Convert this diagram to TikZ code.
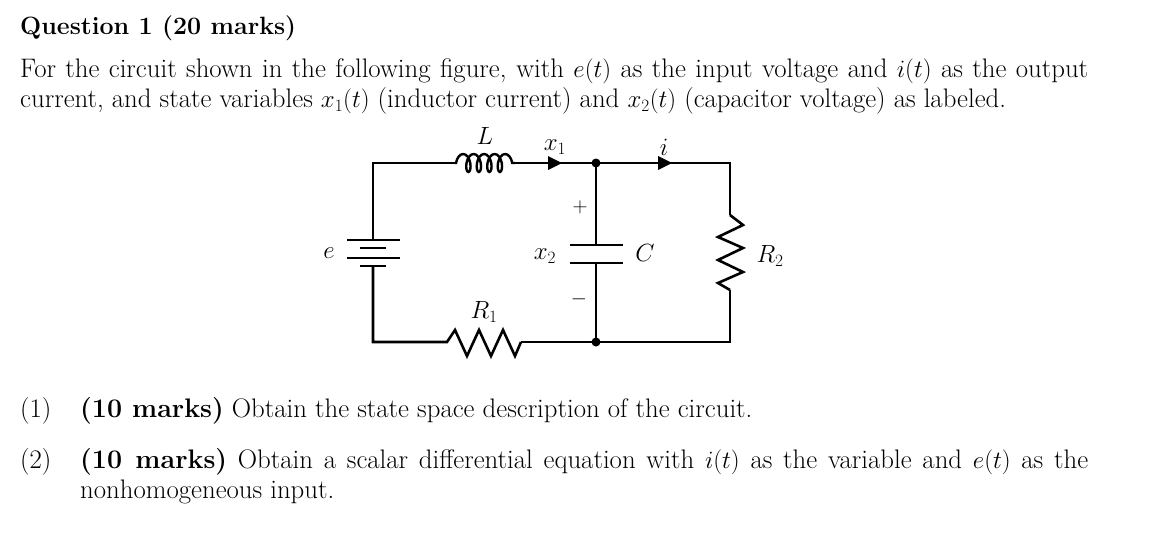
\documentclass[tikz,border=0pt]{standalone}
\usetikzlibrary{decorations.pathmorphing,arrows.meta}
\begin{document}
\begin{tikzpicture}[x=1pt,y=-1pt,
  wire/.style={line width=2.6pt,line join=miter},
  txt/.style={inner sep=0,font=\fontsize{26.8}{30.5}\selectfont},
  dot/.style={circle,fill,inner sep=0,minimum size=9pt}]
\useasboundingbox (0,0) rectangle (1154,544);
\node[txt,anchor=west,font=\fontsize{25}{30}\selectfont\bfseries] (title) at (20,28) {Question 1 (20 marks)};
\node[txt,anchor=north west,text width=1068pt,align=justify] (para) at (20,58) {For the circuit shown in the following figure, with $e(t)$ as the input voltage and $i(t)$ as the output current, and state variables $x_1(t)$ (inductor current) and $x_2(t)$ (capacitor voltage) as labeled.};
\node[txt,anchor=west] (q1n) at (20,411) {(1)};
\node[txt,anchor=west] (q1) at (80,411) {\textbf{(10 marks)} Obtain the state space description of the circuit.};
\node[txt,anchor=north west] (q2n) at (20,448) {(2)};
\node[txt,anchor=north west,text width=1008pt,align=justify] (q2) at (80,448) {\textbf{(10 marks)} Obtain a scalar differential equation with $i(t)$ as the variable and $e(t)$ as the nonhomogeneous input.\par};
% circuit
\coordinate (tl) at (373,163); \coordinate (bl) at (373,342);
\coordinate (tm) at (596,163); \coordinate (bm) at (596,342);
\coordinate (tr) at (730,163); \coordinate (br) at (730,342);
\coordinate (li) at (455,163); \coordinate (lo) at (515,163);
\coordinate (ri) at (447,342); \coordinate (ro) at (521,342);
\coordinate (bt) at (373,240); \coordinate (bb) at (373,266);
\coordinate (ct) at (596,245); \coordinate (cb) at (596,263);
\coordinate (r2t) at (730,215); \coordinate (r2b) at (730,290);
\draw[wire] (bt) -- (tl) -- (li);
\draw[line width=2.4pt,decorate,decoration={coil,aspect=0.5,segment length=10.5pt,amplitude=9pt,pre length=1pt,post length=1pt}] (li) -- (lo);
\draw[wire] (lo) -- (tm) -- (tr) -- (r2t);
\draw[wire] (r2t) -- (743,225) -- (718,237) -- (743,248) -- (718,260) -- (743,272) -- (718,283) -- (r2b);
\draw[wire] (r2b) -- (br) -- (bm) -- (ro);
\draw[wire] (ro) -- (515,356) -- (503,330) -- (491,356) -- (479,330) -- (467,356) -- (455,330) -- (ri) -- (bl) -- (bb);
\draw[wire] (347,240) -- (400,240) (360,248) -- (386,248) (347,258) -- (400,258) (360,266) -- (386,266);
\draw[wire] (tm) -- (ct) (570,245) -- (623,245) (570,263) -- (623,263) (cb) -- (bm);
\node[dot] (n1) at (tm) {}; \node[dot] (n2) at (bm) {};
\fill (562,163) -- (548,156) -- (548,170) -- cycle;
\fill (672,163) -- (658,156) -- (658,170) -- cycle;
\node[txt] (L) at (485,136) {$L$};
\node[txt] (x1) at (555,147) {$x_1$};
\node[txt] (i) at (664,147) {$i$};
\node[txt] (e) at (329,253) {$e$};
\node[txt] (x2) at (545,256) {$x_2$};
\node[txt] (C) at (645,253) {$C$};
\node[txt] (R2) at (770,256) {$R_2$};
\node[txt,font=\fontsize{20}{24}\selectfont] (pl) at (580,207) {$+$};
\node[txt,font=\fontsize{20}{24}\selectfont] (mi) at (579,299) {$-$};
\node[txt] (R1) at (484,312) {$R_1$};
\end{tikzpicture}
\end{document}
